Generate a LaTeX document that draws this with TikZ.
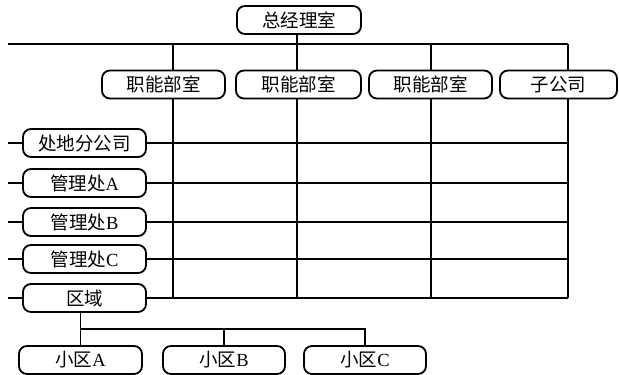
\documentclass[tikz,border=0pt]{standalone}
\usepackage{fontspec}
\setmainfont{Liberation Serif}
\newfontfamily\cjk{Noto Sans CJK SC}
\tikzset{
	unit/.style={draw, line width=1.8pt, rounded corners=8pt, fill=white, minimum width=123pt, minimum height=28pt, inner sep=0pt, font=\fontsize{18.5}{20}\selectfont},
	link/.style={line width=1.2pt}
}

\begin{document}
\begin{tikzpicture}[x=1pt, y=-1pt]
	\useasboundingbox (0,0) rectangle (619,375);
	\node[unit, minimum width=124pt] (gm) at (299,20) {\cjk 总经理室};
	\node[unit] (dept1) at (163.5,84.5) {\cjk 职能部室};
	\node[unit, minimum width=125pt] (dept2) at (298.5,84.5) {\cjk 职能部室};
	\node[unit] (dept3) at (430.5,84.5) {\cjk 职能部室};
	\node[unit, minimum width=117pt] (sub) at (558.5,84.5) {\cjk 子公司};
	\node[unit] (branch) at (84.5,143) {\cjk 处地分公司};
	\node[unit] (mgra) at (84.5,183) {{\cjk 管理处}A};
	\node[unit] (mgrb) at (84.5,222) {{\cjk 管理处}B};
	\node[unit] (mgrc) at (84.5,259) {{\cjk 管理处}C};
	\node[unit] (area) at (84.5,298) {\cjk 区域};
	\node[unit] (zonea) at (80.5,360) {{\cjk 小区}A};
	\node[unit, minimum width=122pt] (zoneb) at (224,360) {{\cjk 小区}B};
	\node[unit, minimum width=122pt] (zonec) at (365,360) {{\cjk 小区}C};

	\coordinate (busl) at (8,44);
	\coordinate (busr) at (568,44);
	\coordinate (fork) at (0,329);
	\draw[link] (busl) -- (busr);
	\draw[link] (gm.south -| 297,0) -- (297,44);
	\foreach \d/\x in {dept1/173, dept2/297, dept3/431, sub/568} {
		\draw[link] (\x,44) -- (\d.north -| \x,0);
		\draw[link] (\d.south -| \x,0) -- (\x,298);
	}
	\foreach \b in {branch, mgra, mgrb, mgrc, area} {
		\draw[link] (\b.west -| busl) -- (\b.west);
		\draw[link] (\b.east) -- (\b.east -| busr);
	}
	\draw[link] (area.south -| zonea.north) -- (zonea.north);
	\draw[link] (zonea.north |- fork) -- (zonec.north |- fork) -- (zonec.north);
	\draw[link] (zoneb.north |- fork) -- (zoneb.north);
\end{tikzpicture}
\end{document}
